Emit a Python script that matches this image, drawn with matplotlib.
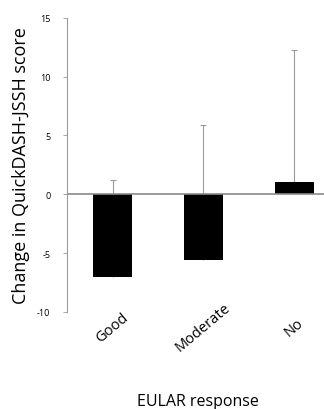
import numpy as np
import matplotlib
matplotlib.use("Agg")
import matplotlib.pyplot as plt

# --- Data ---
categories = ["Good", "Moderate", "No"]
mean_change = [-7.0, -5.6, 1.0]
sd_upper = [8.2, 11.5, 11.3]
y_ticks = [-10, -5, 0, 5, 10, 15]

plt.rcParams['font.family'] = ['Open Sans', 'DejaVu Sans']

fig = plt.figure(figsize=(3.24, 4.10), dpi=100)
ax = fig.add_axes([0.207, 0.237, 0.80, 0.717])

x = np.arange(len(categories))
mean_arr = np.array(mean_change)
top_arr = mean_arr + np.array(sd_upper)

ax.bar(x, mean_arr, width=0.42, color="black", zorder=2)
# upward-only error bars with a small cap on top
ax.vlines(x, mean_arr, top_arr, color="#9a9a9a", lw=0.8, zorder=1)
ax.plot(x, top_arr, ls="none", marker="_", ms=4, mew=0.8, color="#9a9a9a", zorder=1)

ax.axhline(0, color="#8a8a8a", lw=1.2, zorder=3)

ax.set_xlim(-0.5, 2.35)
ax.set_ylim(-10, 15)
ax.set_yticks(y_ticks)
ax.set_yticklabels([str(t) for t in y_ticks], fontsize=6.5)
ax.set_xticks(x)
ax.set_xticklabels(categories, rotation=40, ha="center", va="center",
                   rotation_mode="anchor", fontsize=10.5)
ax.tick_params(axis="x", length=0, pad=11)
ax.tick_params(axis="y", length=3, width=0.6, color="#9a9a9a", pad=9)

for side in ["top", "right", "bottom"]:
    ax.spines[side].set_visible(False)
ax.spines["left"].set_color("#9a9a9a")
ax.spines["left"].set_linewidth(0.8)

ax.set_ylabel("Change in QuickDASH-JSSH score", fontsize=13, labelpad=5)
fig.text(0.61, 0.0, "EULAR response", fontsize=11.5, ha="center", va="bottom")

fig.savefig("out.png", dpi=100)
